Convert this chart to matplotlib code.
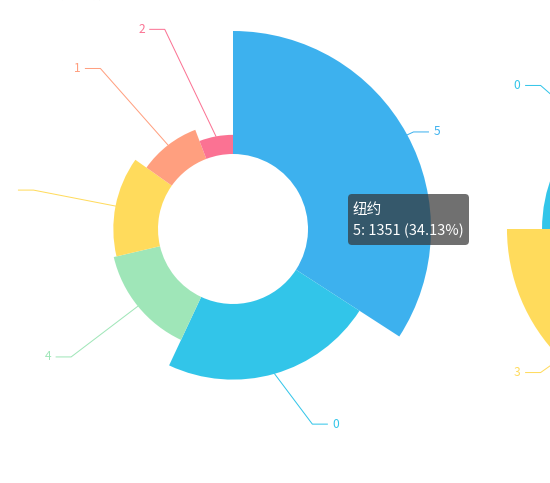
import numpy as np
import matplotlib
matplotlib.use("Agg")
import matplotlib.pyplot as plt
from matplotlib.patches import Wedge, FancyBboxPatch

plt.rcParams["font.family"] = ["Noto Sans CJK SC", "DejaVu Sans"]

W, H = 550, 483

# first rose (纽约), listed clockwise from 12 o'clock
names_ny = ["5", "0", "4", "3", "1", "2"]
values_ny = [1351, 904, 568, 534, 372, 229]
colors_ny = ["#3db1ee", "#32c5e9", "#9fe6b8", "#ffdb5c", "#ff9f7f", "#fb7293"]

# second rose (area type), only its left half is inside the picture
names_b = ["1", "2", "3", "0"]
values_b = [1250, 980, 1195, 807]
colors_b = ["#ff9f7f", "#fb7293", "#ffdb5c", "#32c5e9"]

hovered = "5"
tooltip_series = "纽约"
title_text = "南丁格尔玫瑰图"

# layout (pixels)
R_IN, R_OUT = 75, 188
HOVER_GROW = 10
LEN, LEN2, GAP = 15, 15, 5
ELLIPSE_EXTRA = 9
MIN_LABEL_X = 25
PX = 0.72  # px -> pt at 100 dpi


def draw_rose(ax, cx, cy_px, names, values, colors, mode, hover=None):
    vals = np.asarray(values, dtype=float)
    cy = H - cy_px
    if mode == "radius":
        spans = vals / vals.sum() * 360
    else:
        spans = np.full(len(vals), 360 / len(vals))
    starts = 90 - np.concatenate([[0], np.cumsum(spans)[:-1]])
    ends = starts - spans
    radii = R_IN + (R_OUT - R_IN) * vals / vals.max()

    ra = R_OUT + LEN
    rb = ra + ELLIPSE_EXTRA
    for name, r, a0, a1, c in zip(names, radii, starts, ends, colors):
        rr = r + (HOVER_GROW if name == hover else 0)
        ax.add_patch(Wedge((cx, cy), rr, a1, a0, width=rr - R_IN,
                           facecolor=c, edgecolor="none", zorder=2))
        mid = np.radians((a0 + a1) / 2)
        nx, ny = np.cos(mid), np.sin(mid)
        x1, y1 = cx + r * nx, cy + r * ny
        dy = ra * ny
        side = 1 if nx >= 0 else -1
        x2 = cx + side * ra * np.sqrt(max(0.0, 1 - dy ** 2 / rb ** 2))
        y2 = cy + dy
        x3 = x2 + side * LEN2
        ax.plot([x1, x2, x3], [y1, y2, y2], color=c, lw=1 * PX, zorder=1)
        tx = x3 + side * GAP
        # labels with no room (or outside the view) are dropped
        if MIN_LABEL_X < tx < W:
            ax.text(tx, y2, name, ha="left" if side > 0 else "right",
                    va="center", color=c, fontsize=12 * PX, zorder=3)


fig = plt.figure(figsize=(W / 100, H / 100), dpi=100)
ax = fig.add_axes([0, 0, 1, 1])
ax.set_xlim(0, W)
ax.set_ylim(0, H)
ax.axis("off")

draw_rose(ax, 233, 229, names_ny, values_ny, colors_ny, "radius", hover=hovered)
draw_rose(ax, 690, 229, names_b, values_b, colors_b, "area")

# title, mostly above the visible area
ax.text(30, H - 1.5, title_text, ha="left", va="bottom", color="#b0b0b0",
        fontsize=13 * PX, clip_on=False)

# tooltip for the hovered sector
i = names_ny.index(hovered)
pct = values_ny[i] / sum(values_ny) * 100
ax.add_patch(FancyBboxPatch((348, H - 245), 121, 51,
                            boxstyle="round,pad=0,rounding_size=4",
                            facecolor=(0.2, 0.2, 0.2, 0.7), edgecolor="none", zorder=5))
ax.text(353, H - 210, tooltip_series, color="white", fontsize=14.6 * PX,
        va="center", ha="left", zorder=6)
ax.text(353, H - 231, f"{hovered}: {values_ny[i]} ({pct:.2f}%)", color="white",
        fontsize=14.6 * PX, va="center", ha="left", zorder=6)

fig.savefig("out.png", dpi=100)
